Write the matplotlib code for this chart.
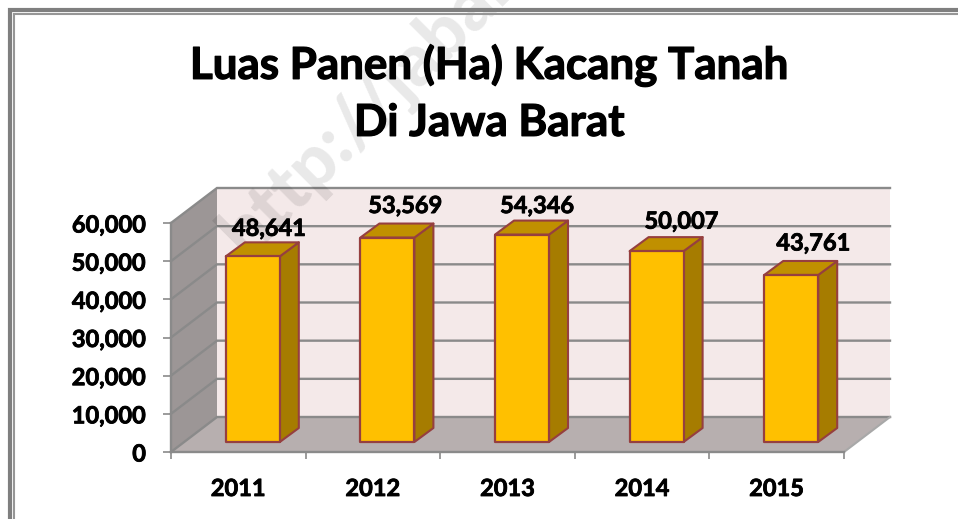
"""
Luas panen kacang tanah, 3D style column chart drawn on a flat axes.
"""
import matplotlib
matplotlib.use("Agg")
from matplotlib import patheffects as pe
from matplotlib import pyplot as plt
from matplotlib.lines import Line2D
from matplotlib.patches import Polygon

years = ["2011", "2012", "2013", "2014", "2015"]
luas_panen = [48641, 53569, 54346, 50007, 43761]
y_ticks = [0, 10000, 20000, 30000, 40000, 50000, 60000]

W, H = 958, 519
plt.rcParams["font.family"] = ["Lato", "DejaVu Sans"]
plt.rcParams["font.weight"] = "bold"

fig = plt.figure(figsize=(W / 100, H / 100), dpi=100)
ax = fig.add_axes([171 / W, 1 - 452 / H, (844 - 171) / W, (452 - 223) / H])
ax.set_xlim(0, 5)
ax.set_ylim(0, 60000)
ax.patch.set_visible(False)

# depth of the box and of the columns, in data units
DEPTH_X = 46 / 134.6
DEPTH_Y = 35 / 229 * 60000
BAR_W = 54 / 134.6
BAR_SHIFT_X = 14.5 / 134.6
BAR_SHIFT_Y = 10 / 229 * 60000
BAR_DX = 19 / 134.6
BAR_DY = 14 / 229 * 60000
EDGE = "#963f3f"
# the fallback for Calibri bold is a bit thin, so fatten it
FAT = [pe.withStroke(linewidth=0.6, foreground="black")]


def face(points, color, zorder, edge="none", lw=0.0):
    ax.add_patch(Polygon(points, closed=True, facecolor=color, edgecolor=edge,
                         linewidth=lw, zorder=zorder, clip_on=False, joinstyle="round"))


# walls and floor
face([(0, 0), (DEPTH_X, DEPTH_Y), (DEPTH_X, 60000 + DEPTH_Y), (0, 60000)], "#9c9696", 1)
face([(DEPTH_X, DEPTH_Y), (5 + DEPTH_X, DEPTH_Y), (5 + DEPTH_X, 60000 + DEPTH_Y),
      (DEPTH_X, 60000 + DEPTH_Y)], "#f4e9e9", 1)
face([(0, 0), (5, 0), (5 + DEPTH_X, DEPTH_Y), (DEPTH_X, DEPTH_Y)], "#b7afaf", 1)

# gridlines along the side wall and the back wall
for t in y_ticks:
    ax.plot([0, DEPTH_X, 5 + DEPTH_X], [t, t + DEPTH_Y, t + DEPTH_Y], color="#8a8a8a",
            lw=1.7, zorder=2, clip_on=False, solid_joinstyle="miter")
ax.plot([5, 5 + DEPTH_X], [0, DEPTH_Y], color="#a8a8a8", lw=1.5, zorder=2, clip_on=False)

# watermark sits behind the columns
ax.text(246 / W, 1 - 258 / H, "http://jabar", transform=fig.transFigure, fontsize=52,
        fontweight=900, color="black", alpha=0.09, rotation=45, rotation_mode="anchor",
        ha="left", va="baseline", zorder=3, clip_on=False)

label_offsets = [(16, 28), (18, 32), (15, 29), (25, 30), (22, 32)]
for i, (value, off) in enumerate(zip(luas_panen, label_offsets)):
    x0 = i + 0.5 - BAR_W / 2 + BAR_SHIFT_X
    x1 = x0 + BAR_W
    y0 = BAR_SHIFT_Y
    y1 = y0 + value
    face([(x1, y0), (x1 + BAR_DX, y0 + BAR_DY), (x1 + BAR_DX, y1 + BAR_DY), (x1, y1)],
         "#a67c00", 4, EDGE, 1.5)
    face([(x0, y1), (x1, y1), (x1 + BAR_DX, y1 + BAR_DY), (x0 + BAR_DX, y1 + BAR_DY)],
         "#c09000", 4, EDGE, 1.5)
    face([(x0, y0), (x1, y0), (x1, y1), (x0, y1)], "#ffc000", 5, EDGE, 1.6)
    ax.annotate(f"{value:,}", ((x0 + x1) / 2, y1), xytext=off, textcoords="offset pixels",
                ha="center", va="center", fontsize=17, fontweight="bold", color="black",
                zorder=6, annotation_clip=False, path_effects=FAT)

# axes
for side in ["top", "right"]:
    ax.spines[side].set_visible(False)
for side in ["left", "bottom"]:
    ax.spines[side].set_color("#8a8a8a")
    ax.spines[side].set_linewidth(1.7)
    ax.spines[side].set_zorder(3)
ax.set_yticks(y_ticks)
ax.set_yticklabels([f"{t:,}" for t in y_ticks], fontsize=17, fontweight="bold", path_effects=FAT)
ax.set_xticks(range(6))
ax.set_xticklabels([])
ax.set_xticks([i + 0.5 for i in range(5)], minor=True)
ax.set_xticklabels(years, minor=True, fontsize=17, fontweight="bold", path_effects=FAT)
ax.tick_params(axis="y", length=6, width=1.2, color="#8a8a8a", pad=12)
ax.tick_params(axis="x", which="major", length=5, width=1.2, color="#8a8a8a")
ax.tick_params(axis="x", which="minor", length=0, pad=18)

# title
fig.text(489 / W, 1 - 93.5 / H, "Luas Panen (Ha) Kacang Tanah\nDi Jawa Barat", fontsize=31.6,
         fontweight="bold", ha="center", va="center", linespacing=1.5, color="black",
         path_effects=[pe.withStroke(linewidth=0.9, foreground="black")])

# double frame running off the right and bottom
for offset, lw, col in [(10, 3.0, "#7f7f7f"), (14, 1.5, "#969696")]:
    fig.add_artist(Line2D([offset / W, offset / W, 1], [0, 1 - offset / H, 1 - offset / H],
                          color=col, lw=lw, solid_joinstyle="miter"))

fig.savefig("out.png", dpi=100, facecolor="white")
